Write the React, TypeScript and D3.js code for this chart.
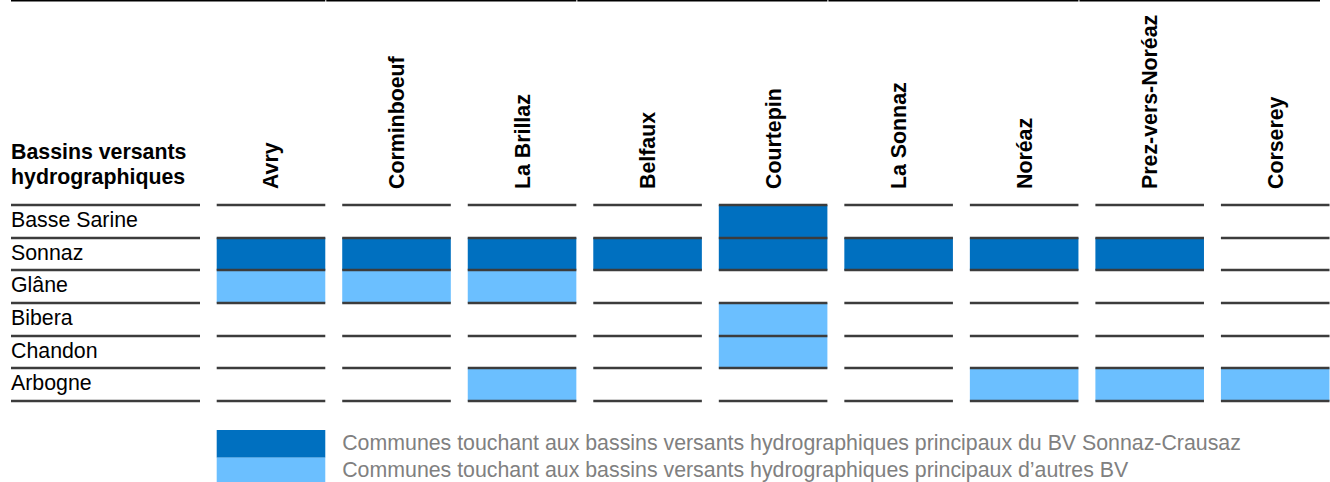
import * as d3 from "d3";

const WIDTH = 1330;
const HEIGHT = 482;

const communes = [
  "Avry",
  "Corminboeuf",
  "La Brillaz",
  "Belfaux",
  "Courtepin",
  "La Sonnaz",
  "Noréaz",
  "Prez-vers-Noréaz",
  "Corserey",
];
const bassins = ["Basse Sarine", "Sonnaz", "Glâne", "Bibera", "Chandon", "Arbogne"];

// 2 = BV Sonnaz-Crausaz, 1 = autres BV, 0 = rien
const basseSarine = [0, 0, 0, 0, 2, 0, 0, 0, 0];
const sonnaz = [2, 2, 2, 2, 2, 2, 2, 2, 0];
const glane = [1, 1, 1, 0, 0, 0, 0, 0, 0];
const bibera = [0, 0, 0, 0, 1, 0, 0, 0, 0];
const chandon = [0, 0, 0, 0, 1, 0, 0, 0, 0];
const arbogne = [0, 0, 1, 0, 0, 0, 1, 1, 1];
const matrix = [basseSarine, sonnaz, glane, bibera, chandon, arbogne];

const headerTitle = ["Bassins versants", "hydrographiques"];
const legendKeys = [2, 1];
const legendLabels = [
  "Communes touchant aux bassins versants hydrographiques principaux du BV Sonnaz-Crausaz",
  "Communes touchant aux bassins versants hydrographiques principaux d\u2019autres BV",
];
// top rule breaks after these columns
const ruleBreaks = ["Avry", "La Brillaz", "Courtepin", "Noréaz"];

const FONT = "'Liberation Sans', Arial, sans-serif";
const FONT_SIZE = 21.33;
const LINE = "#3c3c3c";

const x = d3
  .scaleBand<string>()
  .domain(communes)
  .range([216.7, 1329.5])
  .paddingInner(0.135)
  .paddingOuter(0);

const y = d3.scaleBand<string>().domain(bassins).range([205, 401]);

const color = d3.scaleOrdinal<number, string>().domain([2, 1]).range(["#0070C0", "#6BBFFF"]);

const LABEL_X0 = 11;
const LABEL_X1 = 200;

export default function App() {
  const bw = x.bandwidth();
  // snap the rules to whole pixels so the strokes stay crisp
  const rowEdges = [...bassins.map((b) => y(b)!), y.range()[1]].map(Math.round);

  // segments of the rule at the very top
  const stops = [LABEL_X0, ...ruleBreaks.map((c) => x(c)! + bw), 1320];
  const ruleSegs = d3.pairs(stops).map(([a, b], i) => [i === 0 ? a : a + 1, b]);

  const cells: { r: number; c: number; v: number }[] = [];
  matrix.forEach((row, r) =>
    row.forEach((v, c) => {
      if (v > 0) cells.push({ r, c, v });
    })
  );

  const legendY = 430;
  const legendH = 27.7;

  return (
    <svg
      width={WIDTH}
      height={HEIGHT}
      style={{ position: "absolute", left: 0, top: 0, background: "#fff" }}
      fontFamily={FONT}
    >
      {ruleSegs.map(([a, b], i) => (
        <line key={"rule" + i} x1={a} x2={b} y1={0.75} y2={0.75} stroke="#000" strokeWidth={1.5} />
      ))}

      {/* header */}
      {headerTitle.map((t, i) => (
        <text key={t} x={LABEL_X0} y={159 + i * 25} fontSize={FONT_SIZE} fontWeight="bold" fill="#000">
          {t}
        </text>
      ))}
      {communes.map((c) => (
        <text
          key={c}
          transform={`translate(${x(c)! + bw / 2 + 7.5},189) rotate(-90)`}
          fontSize={FONT_SIZE}
          fontWeight="bold"
          fill="#000"
        >
          {c}
        </text>
      ))}

      {/* row labels */}
      {bassins.map((b) => (
        <text key={b} x={LABEL_X0} y={y(b)! + y.bandwidth() / 2 + 5.5} fontSize={FONT_SIZE} fill="#000">
          {b}
        </text>
      ))}

      {/* filled cells */}
      {cells.map(({ r, c, v }) => (
        <rect
          key={`${r}-${c}`}
          x={x(communes[c])}
          y={y(bassins[r])}
          width={bw}
          height={y.bandwidth()}
          fill={color(v)}
        />
      ))}

      {/* grid lines */}
      {rowEdges.map((yy, i) => (
        <g key={"edge" + i}>
          <line x1={LABEL_X0} x2={LABEL_X1} y1={yy} y2={yy} stroke={LINE} strokeWidth={2.4} />
          {communes.map((c) => (
            <line key={c} x1={x(c)!} x2={x(c)! + bw} y1={yy} y2={yy} stroke={LINE} strokeWidth={2.4} />
          ))}
        </g>
      ))}

      {/* legend */}
      {legendKeys.map((k, i) => (
        <g key={"leg" + k}>
          <rect x={x("Avry")} y={legendY + i * legendH} width={bw} height={legendH} fill={color(k)} />
          <text x={x("Corminboeuf")} y={450 + i * 27} fontSize={FONT_SIZE} fill="#808080">
            {legendLabels[i]}
          </text>
        </g>
      ))}
    </svg>
  );
}
